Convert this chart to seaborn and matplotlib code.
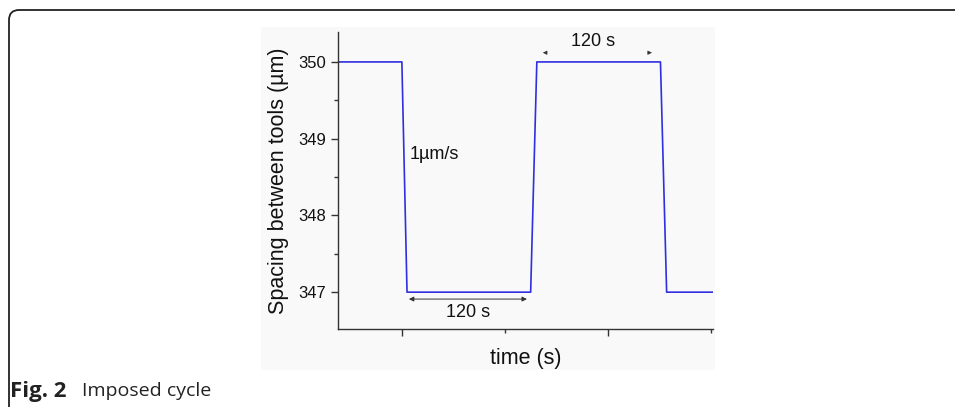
import matplotlib
matplotlib.use('Agg')
import matplotlib.pyplot as plt
import matplotlib.patches as mpatches
import matplotlib.transforms as mtransforms
from matplotlib.ticker import MultipleLocator, NullFormatter
import seaborn as sns
import pandas as pd

# imposed cycle (time in s, spacing in um)
time_s = [138, 200, 205, 325, 331, 451, 457, 502]
spacing_um = [350, 350, 347, 347, 350, 350, 347, 347]

y_ticks = [347, 348, 349, 350]
x_label = "time (s)"
y_label = "Spacing between tools (µm)"
rate_label = "1µm/s"
hold_label = "120 s"

df = pd.DataFrame({"time": time_s, "spacing": spacing_um})

sns.set_theme(style="ticks")
plt.rcParams['font.family'] = ['Liberation Sans', 'DejaVu Sans']

fig = plt.figure(figsize=(9.55, 4.07), dpi=100)
fig.patch.set_facecolor('white')

# light image background behind the chart
fig.patches.append(mpatches.Rectangle((261 / 955, 1 - 370 / 407), 454 / 955, 343 / 407,
                                      transform=fig.transFigure, facecolor='#f9f9f9',
                                      edgecolor='none', zorder=-5))

# rounded frame (top and left edges visible)
frame = mpatches.FancyBboxPatch((9, -100), 1200, 407 - 10 + 100,
                                boxstyle="round,pad=0,rounding_size=10",
                                transform=mtransforms.IdentityTransform(),
                                facecolor='none', edgecolor='#222222', linewidth=1.3,
                                zorder=-4)
fig.patches.append(frame)

ax = fig.add_axes([338 / 955, 1 - 329 / 407, 375 / 955, 297 / 407])
ax.set_facecolor('none')
ax.set_zorder(2)

sns.lineplot(data=df, x="time", y="spacing", ax=ax, color='#2f2fe0',
             linewidth=1.2, estimator=None, sort=False)

ax.set_xlim(138, 502)
ax.set_ylim(346.52, 350.39)
ax.set_yticks(y_ticks)
ax.yaxis.set_minor_locator(MultipleLocator(0.5))
ax.xaxis.set_major_locator(MultipleLocator(200))
ax.xaxis.set_minor_locator(MultipleLocator(100))
ax.xaxis.set_major_formatter(NullFormatter())
ax.tick_params(axis='both', which='major', direction='out', length=5, width=1,
               color='#333333', labelsize=12, labelcolor='#111111')
ax.tick_params(axis='both', which='minor', direction='out', length=3, width=1,
               color='#333333')
sns.despine(ax=ax)
for s in ['left', 'bottom']:
    ax.spines[s].set_color('#333333')
    ax.spines[s].set_linewidth(1)

ax.set_xlabel(x_label, fontsize=15.5, color='#111111', labelpad=5)
ax.set_ylabel(y_label, fontsize=15.5, color='#111111', labelpad=7)

# annotations
ax.annotate("", xy=(206.8, 346.91), xytext=(321.4, 346.91),
            arrowprops=dict(arrowstyle='<|-|>', color='#333333', lw=0.7,
                            mutation_scale=7, shrinkA=0, shrinkB=0))
ax.text(264, 346.73, hold_label, ha='center', va='center', fontsize=13, color='#111111')

ax.annotate("", xy=(336.9, 350.12), xytext=(339.5, 350.12),
            arrowprops=dict(arrowstyle='-|>', color='#333333', lw=0.5,
                            mutation_scale=6, shrinkA=0, shrinkB=0))
ax.annotate("", xy=(442.7, 350.12), xytext=(440.1, 350.12),
            arrowprops=dict(arrowstyle='-|>', color='#333333', lw=0.5,
                            mutation_scale=6, shrinkA=0, shrinkB=0))
ax.text(385.4, 350.26, hold_label, ha='center', va='center', fontsize=13, color='#111111')

ax.text(207.8, 348.79, rate_label, ha='left', va='center', fontsize=13, color='#111111')

# caption
fig.text(10 / 955, 1 - 391 / 407, "Fig. 2", ha='left', va='center', fontsize=16,
         fontweight='bold', family=['Open Sans', 'DejaVu Sans'], color='#222222')
fig.text(82 / 955, 1 - 391 / 407, "Imposed cycle", ha='left', va='center', fontsize=14,
         family=['Open Sans', 'DejaVu Sans'], color='#222222')

fig.savefig("out.png", dpi=100)
plt.close(fig)
